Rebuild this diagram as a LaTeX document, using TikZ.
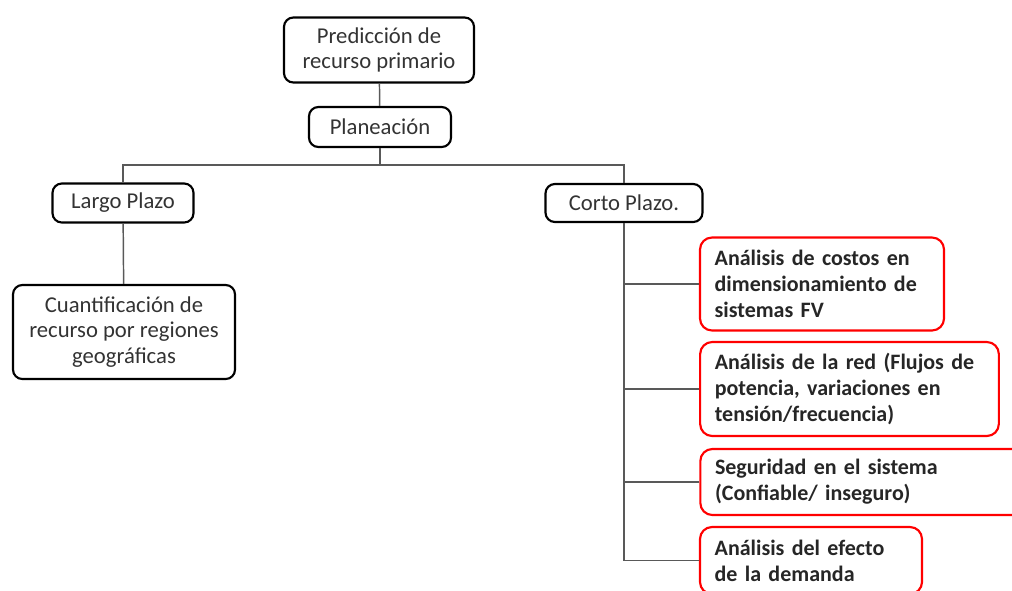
\documentclass[tikz,border=0pt]{standalone}
\usepackage{fontspec}
\setmainfont{Carlito}
\begin{document}
\begin{tikzpicture}[x=0.75pt,y=-0.75pt,
	caja/.style={draw=black, line width=1.6pt, rounded corners=7pt, align=center,
		inner sep=0pt, font=\fontsize{17}{19}\selectfont, text=black!80},
	cajaroja/.style={draw=red, line width=1.6pt, rounded corners=9pt, align=left,
		inner xsep=11pt, inner ysep=0pt, text=black!85,
		font=\fontsize{16.5}{19.5}\selectfont\bfseries},
	linea/.style={draw=black!65, line width=1.1pt}]
	\useasboundingbox (0,0) rectangle (1012,590);
	\clip (0,0) rectangle (1012,590);
	
	\node[caja, minimum width=142.5pt, minimum height=48.75pt] (pred) at (379,50) {Predicción de\\recurso primario};
	\node[caja, minimum width=106.5pt, minimum height=30pt] (plan) at (380,127) {Planeación};
	\node[caja, minimum width=105.75pt, minimum height=29.25pt] (largo) at (123,203) {Largo Plazo};
	\node[caja, minimum width=117.75pt, minimum height=28.5pt] (corto) at (624,203) {Corto Plazo.};
	\node[caja, minimum width=166.5pt, minimum height=70.5pt] (cuant) at (124,332) {Cuantificación de\\recurso por regiones\\geográficas};
	
	\node[cajaroja, text width=161pt, minimum height=69.75pt] (costos) at (822,284) {Análisis de costos en\\dimensionamiento de\\sistemas FV};
	\node[cajaroja, text width=202pt, minimum height=70.5pt] (red) at (849.5,389) {Análisis de la red (Flujos de\\potencia, variaciones en\\tensión/frecuencia)};
	\node[cajaroja, text width=225pt, minimum height=49.5pt] (seguridad) at (865,482) {Seguridad en el sistema\\(Confiable/ inseguro)};
	\node[cajaroja, text width=144.5pt, minimum height=50.25pt] (demanda) at (811,560.5) {Análisis del efecto\\de la demanda};
	
	\coordinate (nivel) at (0,165);
	\draw[linea] (pred) -- (plan);
	\draw[linea] (plan.south) -- (plan.south |- nivel);
	\draw[linea] (largo.north) -- (largo.north |- nivel) -| (corto.north);
	\draw[linea] (largo) -- (cuant);
	\draw[linea] (corto.south) |- (demanda.west);
	\draw[linea] (costos.west) -- (costos.west -| corto.south);
	\draw[linea] (red.west) -- (red.west -| corto.south);
	\draw[linea] (seguridad.west) -- (seguridad.west -| corto.south);
\end{tikzpicture}
\end{document}
